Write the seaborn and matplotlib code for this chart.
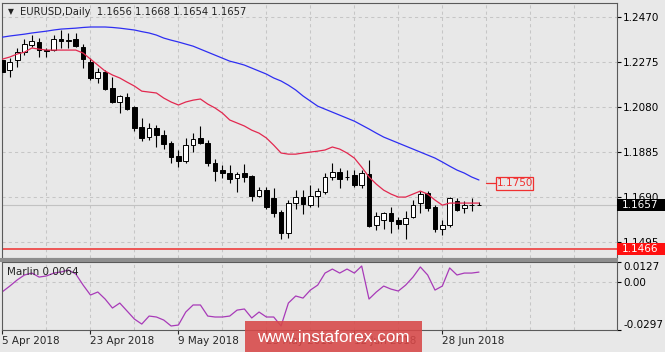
import numpy as np
import matplotlib
matplotlib.use("Agg")
import matplotlib.pyplot as plt
import matplotlib.transforms as mtransforms
from matplotlib.patches import Rectangle
import seaborn as sns

# EURUSD daily candles, 5 Apr 2018 .. 5 Jul 2018
opens = [1.2284, 1.2240, 1.2284, 1.2318, 1.2349, 1.2362, 1.2327, 1.2327, 1.2375, 1.2368,
         1.2375, 1.2340, 1.2275, 1.2206, 1.2232, 1.2162, 1.2102, 1.2123, 1.2080, 1.1993,
         1.1950, 1.1989, 1.1959, 1.1924, 1.1867, 1.1846, 1.1915, 1.1946, 1.1924, 1.1837,
         1.1807, 1.1794, 1.1772, 1.1794, 1.1781, 1.1694, 1.1720, 1.1686, 1.1625, 1.1534,
         1.1664, 1.1690, 1.1655, 1.1694, 1.1712, 1.1777, 1.1798, 1.1775, 1.1785, 1.1742,
         1.1790, 1.1569, 1.1590, 1.1621, 1.1590, 1.1573, 1.1603, 1.1664, 1.1707, 1.1647,
         1.1551, 1.1569, 1.1673, 1.1642, 1.1655, 1.1656]
highs = [1.2292, 1.2292, 1.2336, 1.2375, 1.2392, 1.2379, 1.2336, 1.2392, 1.2414, 1.2401,
         1.2401, 1.2353, 1.2292, 1.2249, 1.2240, 1.2210, 1.2132, 1.2141, 1.2084, 1.2032,
         1.2011, 1.2002, 1.1980, 1.1933, 1.1894, 1.1946, 1.1967, 1.1998, 1.1937, 1.1855,
         1.1829, 1.1829, 1.1798, 1.1833, 1.1785, 1.1733, 1.1733, 1.1729, 1.1634, 1.1677,
         1.1720, 1.1720, 1.1742, 1.1729, 1.1794, 1.1837, 1.1816, 1.1807, 1.1807, 1.1807,
         1.1850, 1.1625, 1.1625, 1.1647, 1.1603, 1.1629, 1.1677, 1.1716, 1.1716, 1.1655,
         1.1590, 1.1690, 1.1686, 1.1673, 1.1686, 1.1668]
lows = [1.2219, 1.2210, 1.2253, 1.2305, 1.2340, 1.2297, 1.2297, 1.2323, 1.2336, 1.2336,
        1.2340, 1.2249, 1.2197, 1.2184, 1.2154, 1.2097, 1.2054, 1.2067, 1.1976, 1.1933,
        1.1937, 1.1907, 1.1898, 1.1837, 1.1820, 1.1837, 1.1885, 1.1922, 1.1824, 1.1759,
        1.1772, 1.1751, 1.1712, 1.1755, 1.1673, 1.1690, 1.1638, 1.1603, 1.1508, 1.1512,
        1.1638, 1.1616, 1.1647, 1.1647, 1.1703, 1.1764, 1.1729, 1.1764, 1.1733, 1.1729,
        1.1560, 1.1547, 1.1551, 1.1534, 1.1551, 1.1508, 1.1599, 1.1621, 1.1629, 1.1538,
        1.1525, 1.1560, 1.1629, 1.1621, 1.1629, 1.1654]
closes = [1.2232, 1.2275, 1.2318, 1.2353, 1.2366, 1.2327, 1.2323, 1.2375, 1.2366, 1.2371,
          1.2344, 1.2288, 1.2206, 1.2232, 1.2158, 1.2102, 1.2128, 1.2071, 1.1989, 1.1946,
          1.1989, 1.1959, 1.1920, 1.1863, 1.1846, 1.1915, 1.1941, 1.1924, 1.1837, 1.1803,
          1.1794, 1.1768, 1.1790, 1.1777, 1.1694, 1.1720, 1.1647, 1.1621, 1.1534, 1.1664,
          1.1690, 1.1660, 1.1694, 1.1716, 1.1777, 1.1798, 1.1768, 1.1779, 1.1742, 1.1794,
          1.1564, 1.1608, 1.1621, 1.1586, 1.1573, 1.1599, 1.1655, 1.1703, 1.1642, 1.1551,
          1.1569, 1.1686, 1.1634, 1.1655, 1.1656, 1.1657]

# moving averages (red = fast, blue = slow)
ma_fast = [1.2288, 1.2297, 1.2310, 1.2318, 1.2336, 1.2331, 1.2327, 1.2327, 1.2327, 1.2327,
           1.2327, 1.2314, 1.2288, 1.2262, 1.2236, 1.2219, 1.2206, 1.2188, 1.2171, 1.2149,
           1.2145, 1.2141, 1.2119, 1.2102, 1.2089, 1.2102, 1.2110, 1.2115, 1.2093, 1.2076,
           1.2054, 1.2024, 1.2011, 1.1998, 1.1980, 1.1967, 1.1946, 1.1915, 1.1881, 1.1876,
           1.1876, 1.1881, 1.1885, 1.1889, 1.1894, 1.1907, 1.1898, 1.1881, 1.1859, 1.1820,
           1.1777, 1.1746, 1.1720, 1.1703, 1.1690, 1.1690, 1.1703, 1.1716, 1.1703, 1.1677,
           1.1655, 1.1664, 1.1664, 1.1664, 1.1664, 1.1664]
ma_slow = [1.2383, 1.2388, 1.2392, 1.2396, 1.2401, 1.2405, 1.2409, 1.2414, 1.2418, 1.2420,
           1.2422, 1.2425, 1.2427, 1.2427, 1.2427, 1.2425, 1.2422, 1.2418, 1.2414, 1.2407,
           1.2401, 1.2392, 1.2379, 1.2370, 1.2362, 1.2353, 1.2344, 1.2331, 1.2318, 1.2305,
           1.2292, 1.2279, 1.2271, 1.2262, 1.2249, 1.2236, 1.2223, 1.2206, 1.2193, 1.2175,
           1.2154, 1.2128, 1.2106, 1.2084, 1.2071, 1.2058, 1.2045, 1.2032, 1.2019, 1.2002,
           1.1985, 1.1967, 1.1950, 1.1937, 1.1924, 1.1911, 1.1898, 1.1885, 1.1872, 1.1859,
           1.1842, 1.1824, 1.1807, 1.1794, 1.1777, 1.1764]

# Marlin oscillator
marlin = [-0.0058, -0.0023, 0.0015, 0.0046, 0.0058, 0.0033, 0.0040, 0.0058, 0.0065, 0.0077,
          0.0052, -0.0017, -0.0079, -0.0060, -0.0104, -0.0160, -0.0129, -0.0179, -0.0229, -0.0260,
          -0.0210, -0.0216, -0.0235, -0.0272, -0.0266, -0.0185, -0.0141, -0.0141, -0.0210, -0.0216,
          -0.0216, -0.0210, -0.0173, -0.0166, -0.0222, -0.0185, -0.0216, -0.0216, -0.0272, -0.0129,
          -0.0085, -0.0098, -0.0048, -0.0017, 0.0058, 0.0083, 0.0058, 0.0083, 0.0058, 0.0102,
          -0.0104, -0.0060, -0.0023, -0.0042, -0.0054, -0.0017, 0.0033, 0.0096, 0.0046, -0.0048,
          -0.0023, 0.0090, 0.0046, 0.0058, 0.0058, 0.0064]

date_ticks = [0, 12, 24, 36, 48, 60]
date_labels = ['5 Apr 2018', '23 Apr 2018', '9 May 2018', '25 May 2018', '12 Jun 2018', '28 Jun 2018']
price_ticks = [1.2470, 1.2275, 1.2080, 1.1885, 1.1690, 1.1495]
osc_ticks = [0.0127, 0.0, -0.0297]
osc_labels = ['0.0127', '0.00', '-0.0297']

last_price = 1.1657
support_level = 1.1466
target_level = 1.1750
title = 'EURUSD,Daily  1.1656 1.1668 1.1654 1.1657'

BG = '#E8E8E8'
GRID = '#C6C6C6'
FRAME = '#5A5A5A'

sns.set_style('ticks')
plt.rcParams['font.family'] = ['DejaVu Sans']

W, H = 665, 352
fig = plt.figure(figsize=(W / 100, H / 100), dpi=100, facecolor=BG)
ax = fig.add_axes([2 / W, 1 - 258 / H, 615 / W, 255 / H])
ax_osc = fig.add_axes([2 / W, 1 - 330 / H, 615 / W, 68 / H])

bars = np.arange(len(opens))
o = np.array(opens)
c = np.array(closes)

# candles
ax.vlines(bars, lows, highs, color='black', linewidth=0.8, zorder=2)
body_low = np.minimum(o, c)
body_h = np.maximum(np.abs(c - o), 0.00012)
ax.bar(bars, body_h, bottom=body_low, width=0.64,
       color=np.where(c >= o, 'white', 'black'), edgecolor='black',
       linewidth=0.7, zorder=3)

# moving averages
sns.lineplot(x=bars, y=ma_slow, ax=ax, color='#2E2EF2', linewidth=0.9, zorder=4)
sns.lineplot(x=bars, y=ma_fast, ax=ax, color='#E2284F', linewidth=0.9, zorder=4)

# levels
ax.axhline(last_price, color='#C2C2C2', linewidth=0.8, zorder=1)
ax.axhline(support_level, color='#EE4A4A', linewidth=1.3, zorder=1)

# 1.1750 target marker
ax.plot([66.0, 67.3], [target_level, target_level], color='#F03030', linewidth=0.9)
ax.add_patch(Rectangle((67.3, target_level - 0.0028), 5.1, 0.0056,
                       facecolor='none', edgecolor='#F03030', linewidth=0.9, zorder=5))
ax.text(69.85, target_level, f'{target_level:.4f}', color='#F03030', fontsize=7.5,
        ha='center', va='center', zorder=6)

# oscillator
sns.lineplot(x=bars, y=marlin, ax=ax_osc, color='#A83AB8', linewidth=0.9)
ax_osc.text(0.008, 0.85, f'Marlin {marlin[-1]:.4f}', transform=ax_osc.transAxes,
            fontsize=7.5, va='center', ha='left', color='#222222')

xmin, xmax = -0.068, 83.83
for a in (ax, ax_osc):
    a.set_facecolor(BG)
    a.set_xlim(xmin, xmax)
    a.set_xlabel('')
    a.set_ylabel('')
    a.set_xticks(date_ticks)
    a.set_xticks(np.arange(0, 84, 6), minor=True)
    a.grid(True, which='both', axis='x', color=GRID, linestyle=(0, (3, 3)), linewidth=0.75)
    a.grid(True, which='major', axis='y', color=GRID, linestyle=(0, (3, 3)), linewidth=0.75)
    a.set_axisbelow(True)
    a.yaxis.tick_right()
    a.tick_params(axis='y', length=3, width=0.8, pad=1.5, labelsize=7.5, colors='black')
    a.tick_params(axis='x', which='minor', length=0)
    for s in a.spines.values():
        s.set_visible(True)
        s.set_color(FRAME)
        s.set_linewidth(0.8)

ax.set_ylim(1.1426, 1.2531)
ax.set_yticks(price_ticks)
ax.set_yticklabels([f'{p:.4f}' for p in price_ticks])
ax.tick_params(axis='x', which='both', bottom=False, labelbottom=False)

ax_osc.set_ylim(-0.0297, 0.0127)
ax_osc.set_yticks(osc_ticks)
ax_osc.set_yticklabels(osc_labels)
ax_osc.grid(False, axis='y')
ax_osc.axhline(0, color=GRID, linestyle=(0, (3, 3)), linewidth=0.75, zorder=0)
ylabs = ax_osc.get_yticklabels()
ylabs[0].set_va('top')
ylabs[-1].set_va('bottom')
ax_osc.set_xticklabels(date_labels, ha='left', fontsize=7.5)
ax_osc.tick_params(axis='x', which='major', length=3, width=0.8, pad=1.5)

# price boxes on the right scale
blend = mtransforms.blended_transform_factory(ax.transAxes, ax.transData)
box_w = 48 / 615
for level, face in ((last_price, 'black'), (support_level, '#FF1010')):
    ax.add_patch(Rectangle((1.0, level - 0.0026), box_w, 0.0052, transform=blend,
                           facecolor=face, edgecolor='none', clip_on=False, zorder=10))
    ax.text(1.0 + 23 / 615, level, f'{level:.4f}', transform=blend, color='white',
            fontsize=7.5, ha='center', va='center', clip_on=False, zorder=11)

# panel separator
fig.patches.append(Rectangle((0, 1 - 262 / H), 618 / W, 4 / H, transform=fig.transFigure,
                             facecolor='#8E8E8E', edgecolor='none', zorder=5))

# title
fig.text(8 / W, 1 - 12 / H, '\u25bc', fontsize=5.5, va='center', ha='left', color='#222222')
fig.text(20 / W, 1 - 12 / H, title, fontsize=7.2, va='center', ha='left', color='#222222')

# watermark
fig.patches.append(Rectangle((245 / W, 0), 177 / W, 31 / H, transform=fig.transFigure,
                             facecolor='#D84848', edgecolor='none', alpha=0.88, zorder=6))
fig.text(333.5 / W, 1 - 337 / H, 'www.instaforex.com', fontsize=12.3, color='white',
         ha='center', va='center', family=['Liberation Sans', 'DejaVu Sans'], zorder=7)

fig.savefig('out.png', dpi=100, facecolor=BG)
